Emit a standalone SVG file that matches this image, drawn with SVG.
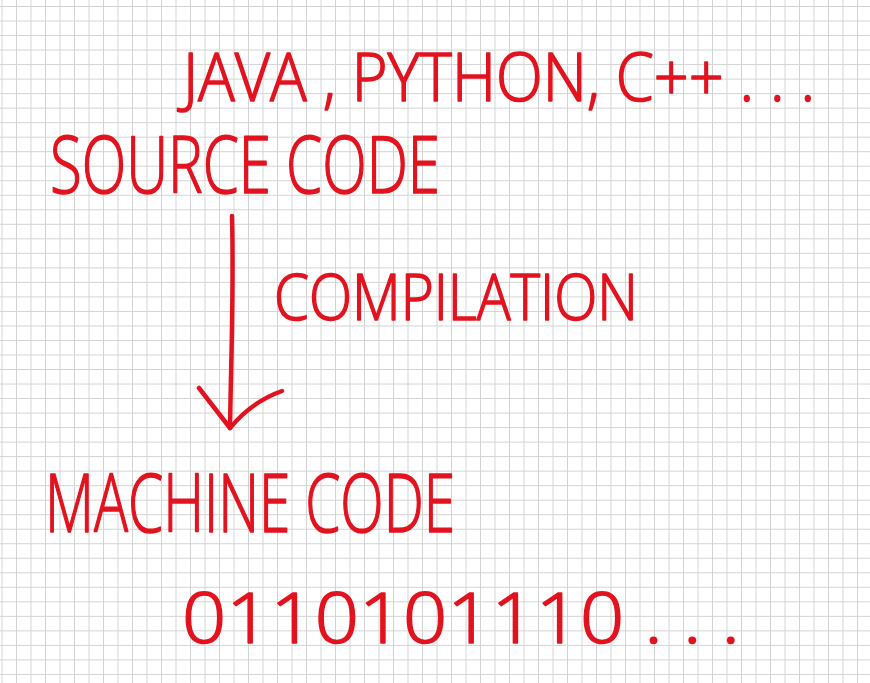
<svg xmlns="http://www.w3.org/2000/svg" width="870" height="683" viewBox="0 0 870 683">
  <defs>
    <pattern id="grid" patternUnits="userSpaceOnUse" x="-5.25" y="-0.76" width="14.5" height="14.52">
      <path d="M7.25 0 V14.52 M0 7.26 H14.5" stroke="#d3d3d3" stroke-width="1" fill="none"/>
    </pattern>
    <style>
      .ink { fill: #e2131f; stroke: #e2131f; stroke-width: 1.6; stroke-linejoin: round; font-family: "Open Sans", "Liberation Sans", Arial, sans-serif; font-weight: 300; }
      .stroke { fill: none; stroke: #e2131f; stroke-width: 4.5; stroke-linecap: round; stroke-linejoin: round; }
    </style>
  </defs>
  <rect width="870" height="683" fill="#ffffff"/>
  <rect width="870" height="683" fill="url(#grid)"/>

  <g id="languages">
    <text class="ink" x="183" y="101" font-size="66" textLength="632" lengthAdjust="spacingAndGlyphs">JAVA , PYTHON, C++ . . .</text>
  </g>

  <g id="source-code">
    <text class="ink" x="50" y="193" font-size="80" textLength="390" lengthAdjust="spacingAndGlyphs">SOURCE CODE</text>
  </g>

  <g id="connectors">
    <path class="stroke" d="M232 216 C234 290 231 360 230 428"/>
    <path class="stroke" d="M199 388 L230 428 C245 410 262 398 282 391"/>
    <text class="ink" x="274" y="320" font-size="64" textLength="364" lengthAdjust="spacingAndGlyphs">COMPILATION</text>
  </g>

  <g id="machine-code">
    <text class="ink" x="45" y="532" font-size="82" textLength="410" lengthAdjust="spacingAndGlyphs">MACHINE CODE</text>
  </g>

  <g id="binary">
    <text class="ink" x="182" y="643" font-size="70" textLength="558" lengthAdjust="spacingAndGlyphs">0110101110 . . .</text>
  </g>
</svg>
